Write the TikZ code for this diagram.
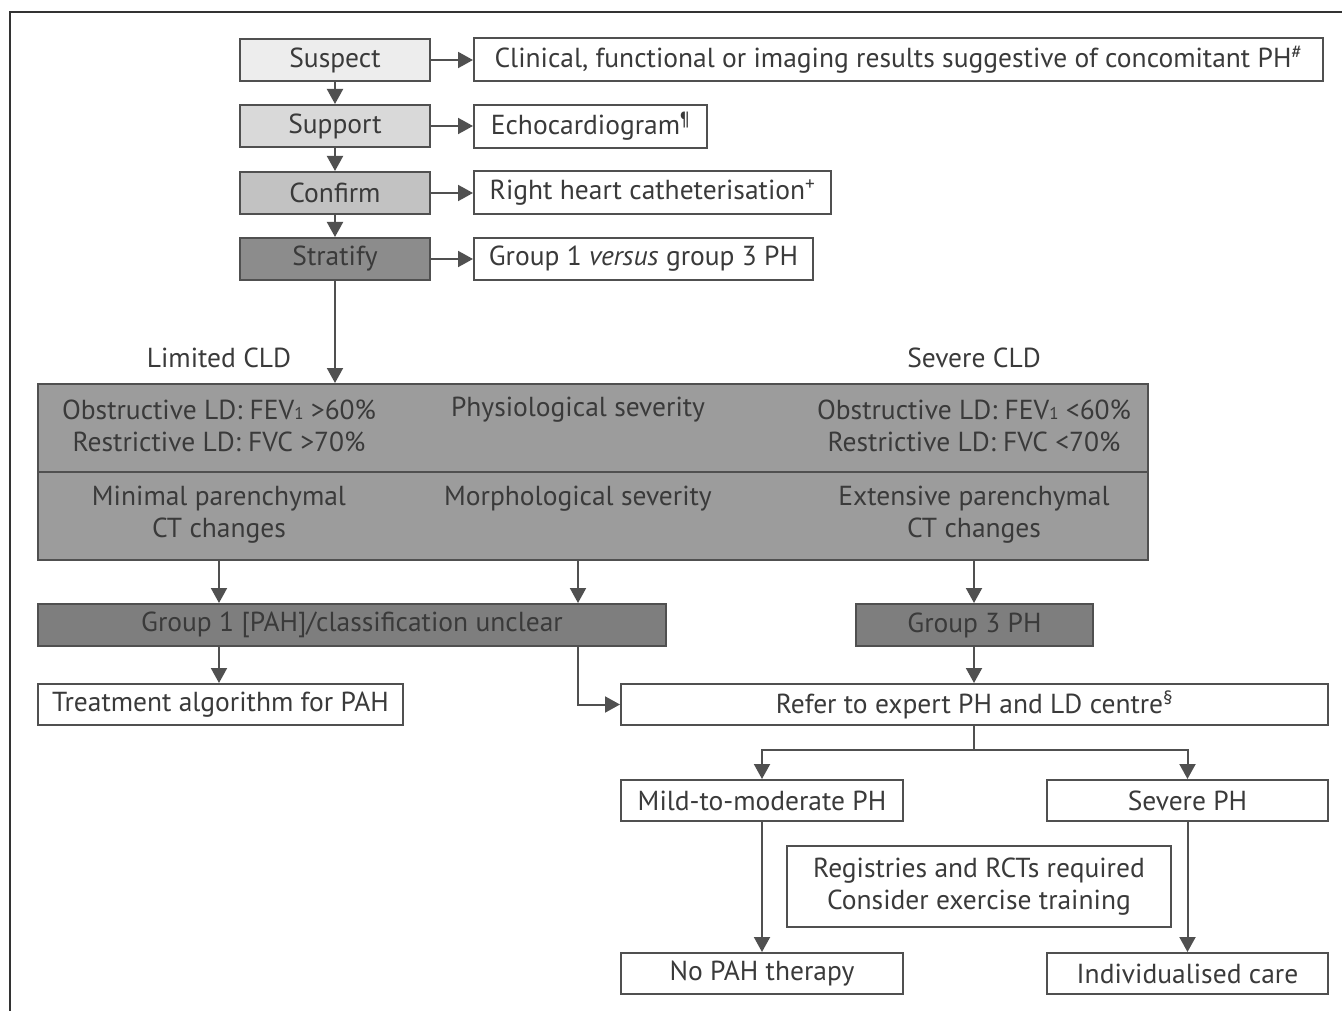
\documentclass[tikz,border=0pt]{standalone}
\usepackage{fontspec}
\setmainfont{PT Sans}
\usetikzlibrary{arrows.meta}
\definecolor{bc}{HTML}{505050}
\definecolor{tc}{HTML}{3A3A3A}
\definecolor{fa}{HTML}{EDEDED}
\definecolor{fb}{HTML}{D9D9D9}
\definecolor{fcc}{HTML}{C2C2C2}
\definecolor{fd}{HTML}{8C8C8C}
\definecolor{fbig}{HTML}{9C9C9C}
\definecolor{fg}{HTML}{7E7E7E}
\newcommand\fs{\fontsize{27.5}{32}\selectfont}
\newcommand\sub[1]{{\fontsize{17}{17}\selectfont #1}}
\begin{document}
\begin{tikzpicture}[x=1pt,y=-1pt,
  box/.style={draw=bc, line width=2pt, text=tc, inner sep=0pt, anchor=north west, font=\fs, fill=white},
  lbl/.style={text=tc, inner sep=0pt, font=\fs, align=center},
  arr/.style={draw=bc, line width=2pt, -{Triangle[length=15pt,width=16pt]}},
  ln/.style={draw=bc, line width=2pt}]
\useasboundingbox (0,0) rectangle (1342,1011);
\draw[line width=1.5pt, color=black!80] (10,1011) -- (10,12) -- (1342,12);

% left column
\node[box, fill=fa, minimum width=190pt, minimum height=42pt] (sus) at (239,38) {Suspect};
\node[box, fill=fb, minimum width=190pt, minimum height=42pt] (sup) at (239,104) {Support};
\node[box, fill=fcc, minimum width=190pt, minimum height=42pt] (con) at (239,171) {Confirm};
\node[box, fill=fd, minimum width=190pt, minimum height=42pt] (str) at (239,237) {Stratify};

% right column
\node[box, minimum width=849pt, minimum height=43pt] (cli) at (473,37) {Clinical, functional or imaging results suggestive of concomitant PH\textsuperscript{\#}};
\node[box, minimum width=233pt, minimum height=43pt] (ech) at (473,104) {Echocardiogram\textsuperscript{¶}};
\node[box, minimum width=357pt, minimum height=43pt] (rhc) at (473,170) {Right heart catheterisation\textsuperscript{+}};
\node[box, minimum width=339pt, minimum height=42pt] (grp) at (473,237) {Group 1 \textit{versus} group 3 PH};

\draw[arr] (sus) -- (sup);
\draw[arr] (sup) -- (con);
\draw[arr] (con) -- (str);
\draw[arr] (sus.east) -- (cli.west |- sus.east);
\draw[arr] (sup.east) -- (ech.west |- sup.east);
\draw[arr] (con.east) -- (rhc.west |- con.east);
\draw[arr] (str.east) -- (grp.west |- str.east);

% CLD labels
\node[lbl] (lim) at (219,358) {Limited CLD};
\node[lbl] (sev) at (974,358) {Severe CLD};

% big box
\node[box, fill=fbig, minimum width=1110pt, minimum height=88pt] (phys) at (37,383) {};
\node[box, fill=fbig, minimum width=1110pt, minimum height=88pt] (morph) at (37,471) {};
\draw[arr] (str.south) -- (phys.north -| str.south);

\node[lbl] (p1) at (219,426) {Obstructive LD: FEV\sub{1} >60\%\\Restrictive LD: FVC >70\%};
\node[lbl] (p2) at (578,410) {Physiological severity};
\node[lbl] (p3) at (974,426) {Obstructive LD: FEV\sub{1} <60\%\\Restrictive LD: FVC <70\%};
\node[lbl] (m1) at (219,515) {Minimal parenchymal\\CT changes};
\node[lbl] (m2) at (578,499) {Morphological severity};
\node[lbl] (m3) at (974,515) {Extensive parenchymal\\CT changes};

% groups
\node[box, fill=fg, minimum width=628pt, minimum height=42pt] (g1) at (37,603) {Group 1 [PAH]/classification unclear};
\node[box, fill=fg, minimum width=237pt, minimum height=42pt] (g3) at (855,603) {Group 3 PH};
\draw[arr] (morph.south -| m1) -- (g1.north -| m1);
\draw[arr] (morph.south -| m2) -- (g1.north -| m2);
\draw[arr] (morph.south -| m3) -- (g3.north -| m3);

\node[box, minimum width=365pt, minimum height=41pt] (tre) at (37,683) {Treatment algorithm for PAH};
\node[box, minimum width=707pt, minimum height=41pt] (ref) at (620,683) {Refer to expert PH and LD centre\textsuperscript{§}};
\draw[arr] (g1.south -| m1) -- (tre.north -| m1);
\draw[arr] (g1.south -| m2) |- (ref.west);
\draw[arr] (g3.south -| m3) -- (ref.north -| m3);

\node[box, minimum width=282pt, minimum height=41pt] (mild) at (620,779) {Mild-to-moderate PH};
\node[box, minimum width=281pt, minimum height=41pt] (sph) at (1046,779) {Severe PH};
\coordinate (split) at (974,750);
\draw[ln] (ref.south -| split) -- (split);
\draw[arr] (split) -| (mild.north);
\draw[arr] (split) -| (sph.north);

\node[box, minimum width=384pt, minimum height=81pt, align=center] (reg) at (786,845) {Registries and RCTs required\\Consider exercise training};

\node[box, minimum width=282pt, minimum height=41pt] (nop) at (620,952) {No PAH therapy};
\node[box, minimum width=281pt, minimum height=41pt] (ind) at (1046,952) {Individualised care};
\draw[arr] (mild) -- (nop);
\draw[arr] (sph) -- (ind);
\end{tikzpicture}
\end{document}
